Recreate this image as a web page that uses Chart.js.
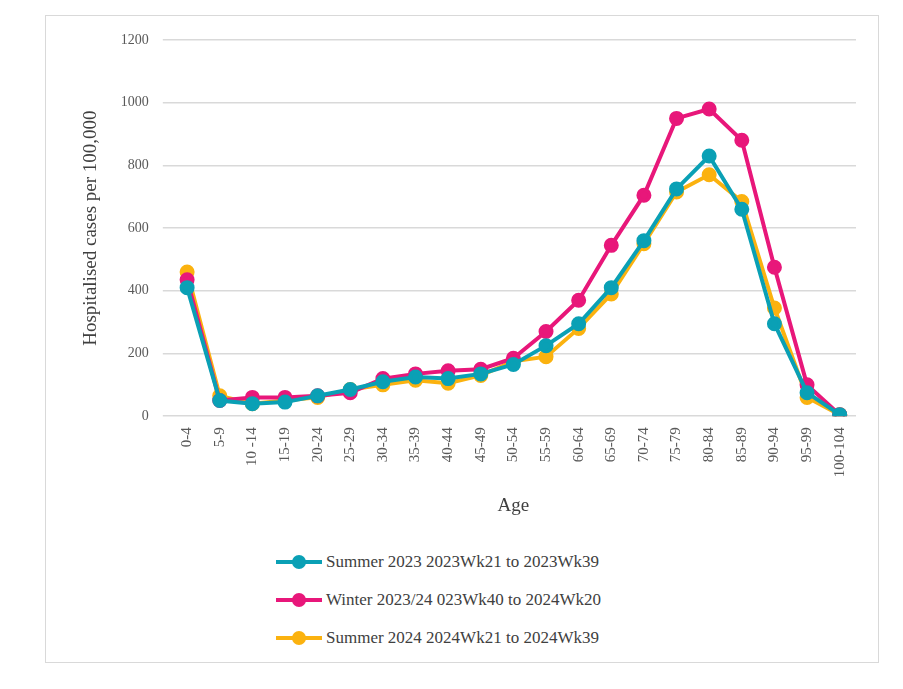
<!DOCTYPE html>
<html><head><meta charset="utf-8">
<script src="https://cdn.jsdelivr.net/npm/chart.js@4"></script>
<style>
body{margin:0;background:#fff;font-family:"Liberation Serif",serif;}
#frame{position:absolute;left:45px;top:15px;width:832px;height:646px;border:1px solid #d9d9d9;}
#wrap{position:absolute;left:0;top:0;width:832px;height:505px;}
#legend{position:absolute;left:230px;top:527px;font-size:17px;color:#404040;}
.li{display:flex;align-items:center;height:38px;}
.mk{position:relative;width:46px;height:10px;margin-right:4px;}
.mk .ln{position:absolute;left:0;right:0;top:3px;height:4px;}
.mk .dt{position:absolute;left:16px;top:-2px;width:14px;height:14px;border-radius:50%;}
</style></head><body>
<div id="frame"><div id="wrap"><canvas id="c"></canvas></div><div id="legend"></div></div>
<script>
const ages=["0-4","5-9","10 -14","15-19","20-24","25-29","30-34","35-39","40-44","45-49","50-54","55-59","60-64","65-69","70-74","75-79","80-84","85-89","90-94","95-99","100-104"];
const summer2023=[410,50,40,45,65,85,110,125,120,135,165,225,295,410,560,725,830,660,295,75,5];
const winter2324=[435,50,60,60,65,75,120,135,145,150,185,270,370,545,705,950,980,880,475,100,5];
const summer2024=[460,65,40,50,60,85,100,115,105,130,175,190,280,390,550,715,770,685,345,60,5];
const labels=["Summer 2023 2023Wk21 to 2023Wk39","Winter 2023/24 023Wk40 to 2024Wk20","Summer 2024 2024Wk21 to 2024Wk39"];
const colors=["#0aa0b5","#e8177a","#fbb20f"];
const yTicks=[0,200,400,600,800,1000,1200];
const data=[summer2023,winter2324,summer2024];
const ds=data.map((d,i)=>({label:labels[i],data:d,borderColor:colors[i],backgroundColor:colors[i],borderWidth:4,pointRadius:5.5,pointHoverRadius:5.5,tension:0}));
const ch=new Chart(document.getElementById('c'),{type:'line',data:{labels:ages,datasets:ds},
options:{responsive:true,maintainAspectRatio:false,animation:false,
layout:{padding:{left:30,right:22,top:24,bottom:0}},
plugins:{legend:{display:false},tooltip:{enabled:false}},
scales:{
x:{offset:true,grid:{display:false},border:{display:false},ticks:{color:'#595959',font:{family:'Liberation Serif',size:15},maxRotation:90,minRotation:90,autoSkip:false},
 title:{display:true,text:'Age',color:'#404040',font:{family:'Liberation Serif',size:19},padding:{top:14}}},
y:{min:0,max:1200,afterBuildTicks:a=>{a.ticks=yTicks.map(v=>({value:v}));},grid:{color:'#d9d9d9',lineWidth:1.5},border:{display:false},
 ticks:{color:'#595959',padding:14,font:{family:'Liberation Serif',size:14},callback:v=>String(v)},
 title:{display:true,text:'Hospitalised cases per 100,000',color:'#404040',font:{family:'Liberation Serif',size:19}}}
}}});
const lg=document.getElementById('legend');
ch.data.datasets.forEach(d=>{const r=document.createElement('div');r.className='li';
r.innerHTML='<div class="mk"><div class="ln" style="background:'+d.borderColor+'"></div><div class="dt" style="background:'+d.borderColor+'"></div></div><span>'+d.label+'</span>';lg.appendChild(r);});
</script></body></html>
